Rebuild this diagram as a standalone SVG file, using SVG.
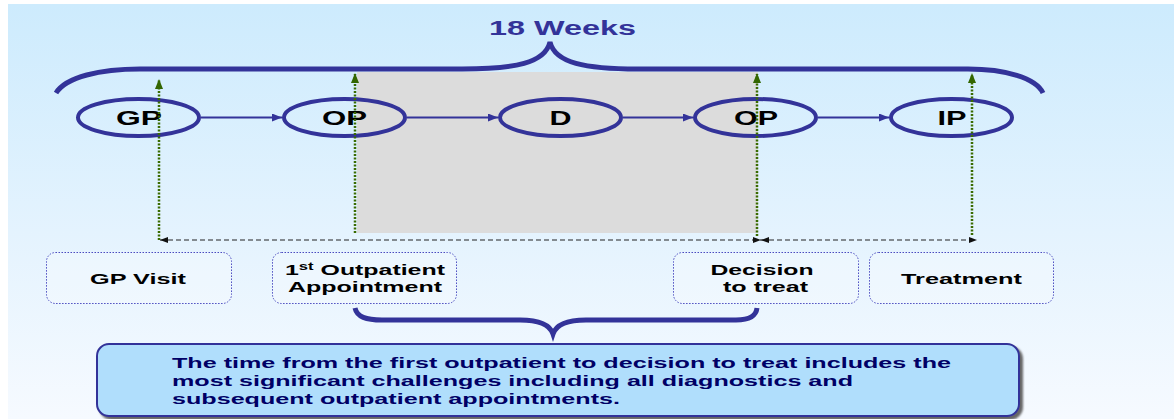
<svg xmlns="http://www.w3.org/2000/svg" width="1174" height="419" viewBox="0 0 1174 419">
  <defs>
    <linearGradient id="bg" x1="0" y1="0" x2="0" y2="1">
      <stop offset="0" stop-color="#CDEBFD"/>
      <stop offset="0.55" stop-color="#E4F3FE"/>
      <stop offset="1" stop-color="#F6FAFF"/>
    </linearGradient>
    <marker id="flowHead" viewBox="0 0 10 8" refX="10" refY="4" markerWidth="10" markerHeight="8" markerUnits="userSpaceOnUse" orient="auto">
      <path d="M0,0 L10,4 L0,8 Z" fill="#333399"/>
    </marker>
    <marker id="greenHead" viewBox="0 0 10 8" refX="9" refY="4" markerWidth="10" markerHeight="9" markerUnits="userSpaceOnUse" orient="auto">
      <path d="M0,0 L10,4 L0,8 Z" fill="#336600"/>
    </marker>
    <marker id="spanEnd" viewBox="0 0 8 6" refX="8" refY="3" markerWidth="8" markerHeight="6" markerUnits="userSpaceOnUse" orient="auto">
      <path d="M0,0 L8,3 L0,6 Z" fill="#111"/>
    </marker>
    <marker id="spanStart" viewBox="0 0 8 6" refX="0" refY="3" markerWidth="8" markerHeight="6" markerUnits="userSpaceOnUse" orient="auto">
      <path d="M8,0 L0,3 L8,6 Z" fill="#111"/>
    </marker>
    <filter id="shadow" x="-5%" y="-10%" width="110%" height="130%">
      <feGaussianBlur in="SourceAlpha" stdDeviation="1"/>
      <feOffset dx="3" dy="3" result="off"/>
      <feFlood flood-color="#666"/>
      <feComposite in2="off" operator="in"/>
      <feMerge><feMergeNode/><feMergeNode in="SourceGraphic"/></feMerge>
    </filter>
  </defs>
  <style>
    text { font-family: "Liberation Sans", Arial, sans-serif; font-weight: bold; }
    .title { font-size: 20px; fill: #333399; text-anchor: middle; }
    .node { fill: none; stroke: #333399; stroke-width: 4; }
    .nlabel { font-size: 20px; fill: #000; text-anchor: middle; }
    .brace { fill: none; stroke: #333399; stroke-width: 5; stroke-linecap: butt; }
    .flow { stroke: #333399; stroke-width: 2; fill: none; marker-end: url(#flowHead); }
    .mark { stroke: #3A6B00; stroke-width: 2.5; stroke-dasharray: 2 1.5; fill: none; marker-end: url(#greenHead); }
    .span { stroke: #222; stroke-width: 1.2; stroke-dasharray: 5 3; fill: none; marker-start: url(#spanStart); marker-end: url(#spanEnd); }
    .box { fill: #FFFFFF; fill-opacity: 0.25; stroke: #4B4BC0; stroke-width: 1; stroke-dasharray: 1.5 1.5; }
    .blabel { font-size: 15px; fill: #000; text-anchor: middle; }
    .note { fill: #B0DEFC; stroke: #333399; stroke-width: 2; }
    .notetext { font-size: 15px; fill: #000066; }
  </style>

  <!-- backdrop -->
  <rect x="0" y="0" width="1174" height="419" fill="#FFFFFF"/>
  <rect x="8" y="4" width="1166" height="415" fill="url(#bg)"/>

  <!-- shaded span between first outpatient visit and decision to treat -->
  <rect id="span-area" x="357" y="72" width="401" height="161" fill="#DCDCDC"/>

  <!-- 18 week brace -->
  <g id="brace-18-weeks">
    <path class="brace" d="M56,93 C66,77 100,69 140,69 L462,69 C515,69 545,63 550,42 C555,63 585,69 638,69 L968,69 C1005,69 1036,78 1043,93"/>
    <text class="title" x="562.5" y="35" textLength="147" lengthAdjust="spacingAndGlyphs">18 Weeks</text>
  </g>

  <!-- pathway stages -->
  <g id="node-gp">
    <ellipse class="node" cx="138.5" cy="117.5" rx="60.5" ry="18.5"/>
    <text class="nlabel" x="139" y="125" textLength="46" lengthAdjust="spacingAndGlyphs">GP</text>
  </g>
  <g id="node-op1">
    <ellipse class="node" cx="344.5" cy="117.5" rx="60.5" ry="18.5"/>
    <text class="nlabel" x="344.5" y="125" textLength="45" lengthAdjust="spacingAndGlyphs">OP</text>
  </g>
  <g id="node-d">
    <ellipse class="node" cx="560.5" cy="117.5" rx="60.5" ry="18.5"/>
    <text class="nlabel" x="560.5" y="125" textLength="22" lengthAdjust="spacingAndGlyphs">D</text>
  </g>
  <g id="node-op2">
    <ellipse class="node" cx="755.5" cy="117.5" rx="60.5" ry="18.5"/>
    <text class="nlabel" x="756" y="125" textLength="44" lengthAdjust="spacingAndGlyphs">OP</text>
  </g>
  <g id="node-ip">
    <ellipse class="node" cx="951.5" cy="117.5" rx="60.5" ry="18.5"/>
    <text class="nlabel" x="952" y="125" textLength="29" lengthAdjust="spacingAndGlyphs">IP</text>
  </g>

  <!-- connectors -->
  <g id="connectors">
    <line class="flow" x1="201" y1="117.5" x2="282" y2="117.5"/>
    <line class="flow" x1="407" y1="117.5" x2="498" y2="117.5"/>
    <line class="flow" x1="623" y1="117.5" x2="693" y2="117.5"/>
    <line class="flow" x1="818" y1="117.5" x2="889" y2="117.5"/>

    <line class="mark" x1="159" y1="240" x2="159" y2="80"/>
    <line class="mark" x1="355" y1="233" x2="355" y2="74"/>
    <line class="mark" x1="757" y1="236" x2="757" y2="74"/>
    <line class="mark" x1="972" y1="235" x2="972" y2="74"/>

    <line class="span" x1="160" y1="240" x2="761" y2="240"/>
    <line class="span" x1="761" y1="240" x2="977" y2="240"/>
  </g>

  <!-- milestone labels -->
  <g id="label-gp-visit">
    <rect class="box" x="46.5" y="252.5" width="185" height="51" rx="9"/>
    <text class="blabel" x="138" y="284" textLength="96" lengthAdjust="spacingAndGlyphs">GP Visit</text>
  </g>
  <g id="label-first-outpatient">
    <rect class="box" x="272.5" y="252.5" width="184" height="51" rx="9"/>
    <text class="blabel" x="365" y="275" textLength="160" lengthAdjust="spacingAndGlyphs">1<tspan font-size="10" dy="-5">st</tspan><tspan dy="5"> Outpatient</tspan></text>
    <text class="blabel" x="365" y="291.5" textLength="154" lengthAdjust="spacingAndGlyphs">Appointment</text>
  </g>
  <g id="label-decision">
    <rect class="box" x="673.5" y="252.5" width="185" height="51" rx="9"/>
    <text class="blabel" x="762" y="275" textLength="103" lengthAdjust="spacingAndGlyphs">Decision</text>
    <text class="blabel" x="765.5" y="292" textLength="85" lengthAdjust="spacingAndGlyphs">to treat</text>
  </g>
  <g id="label-treatment">
    <rect class="box" x="869.5" y="252.5" width="184" height="51" rx="9"/>
    <text class="blabel" x="961.5" y="284" textLength="121" lengthAdjust="spacingAndGlyphs">Treatment</text>
  </g>

  <!-- brace under the outpatient-to-decision span -->
  <g id="brace-span">
    <path class="brace" stroke-width="4" d="M355,308 C357,317 366,320 382,320 L520,320 C540,320 550,325 553,334 C556,325 566,320 586,320 L736,320 C750,320 756,316 757,308"/>
  </g>

  <!-- explanatory note -->
  <g id="note">
    <rect class="note" x="97" y="344" width="922" height="72" rx="12" filter="url(#shadow)"/>
    <text class="notetext" x="172" y="368" textLength="779" lengthAdjust="spacingAndGlyphs">The time from the first outpatient to decision to treat includes the</text>
    <text class="notetext" x="172" y="386" textLength="681" lengthAdjust="spacingAndGlyphs">most significant challenges including all diagnostics and</text>
    <text class="notetext" x="172" y="404" textLength="448" lengthAdjust="spacingAndGlyphs">subsequent outpatient appointments.</text>
  </g>
</svg>
